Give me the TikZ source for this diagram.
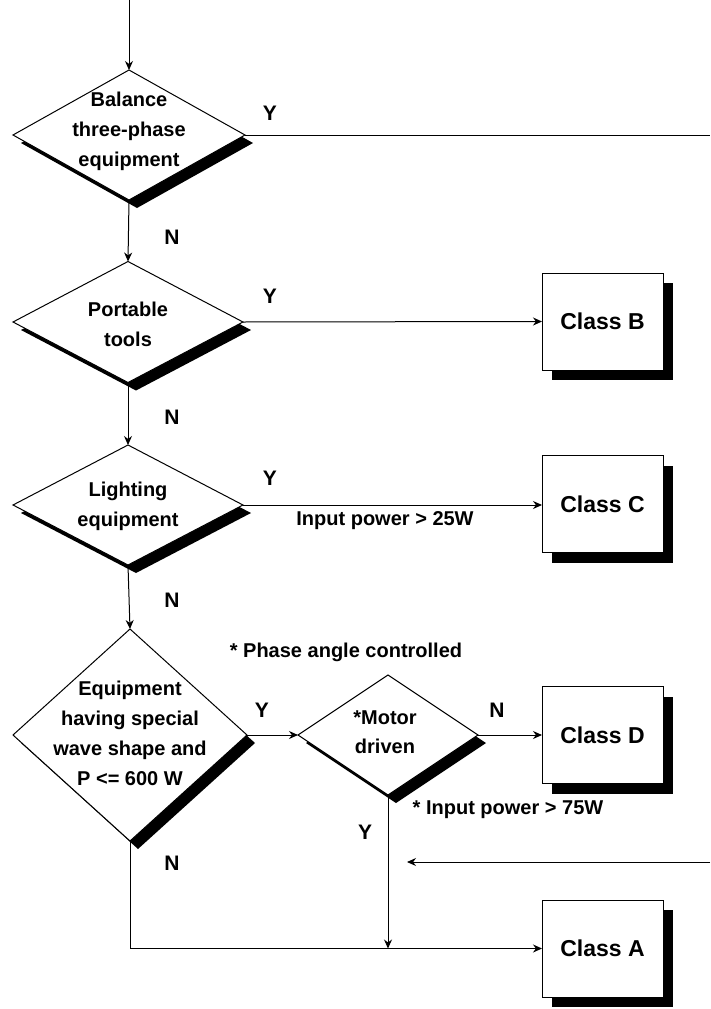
\documentclass[tikz,border=0pt]{standalone}
\usepackage{fontspec}
\setmainfont{Liberation Sans}
\usetikzlibrary{shapes.geometric,shadows,arrows.meta}
\begin{document}
\begin{tikzpicture}[x=1pt,y=-1pt,
  dec/.style={diamond, draw, line width=1pt, fill=white, inner sep=0pt, outer sep=0pt,
    drop shadow={shadow xshift=8pt, shadow yshift=-8pt, fill=black, opacity=1}},
  dtext/.style={align=center, inner sep=0pt, font=\fontsize{20}{30}\selectfont\bfseries},
  cls/.style={draw, fill=white, line width=1pt, minimum width=121pt, minimum height=97pt, outer sep=0pt,
    drop shadow={shadow xshift=10pt, shadow yshift=-10pt, fill=black, opacity=1},
    font=\fontsize{23}{28}\selectfont\bfseries},
  lbl/.style={inner sep=0pt, font=\fontsize{21}{25}\selectfont\bfseries},
  note/.style={inner sep=0pt, font=\fontsize{20}{24}\selectfont\bfseries},
  arr/.style={-{Stealth[length=9pt,width=8pt]}, line width=1pt},
  ln/.style={line width=1pt}]
\useasboundingbox (0,0) rectangle (710,1009);

% decisions
\node[dec, minimum width=232pt, minimum height=130pt] (d1) at (129,135) {};
\node[dtext] (d1t) at (129,131) {Balance\\three-phase\\equipment};
\node[dec, minimum width=230pt, minimum height=121pt] (d2) at (128,322) {};
\node[dtext] (d2t) at (128,324) {Portable\\tools};
\node[dec, minimum width=230pt, minimum height=120pt] (d3) at (128,505) {};
\node[dtext] (d3t) at (128,506) {Lighting\\equipment};
\node[dec, minimum width=234pt, minimum height=212pt] (d4) at (130,735) {};
\node[dtext] (d4t) at (130,733) {Equipment\\having special\\wave shape and\\P <= 600 W};
\node[dec, minimum width=180pt, minimum height=120pt] (m) at (388,735) {};
\node[dtext, font=\fontsize{20}{29}\selectfont\bfseries] (mt) at (385,732) {*Motor\\driven};

% classes
\node[cls] (B) at (602.5,321.5) {Class B};
\node[cls] (C) at (602.5,504) {Class C};
\node[cls] (D) at (602.5,735) {Class D};
\node[cls] (A) at (602.5,948.5) {Class A};

% free ends
\coordinate (top) at (129,0);
\coordinate (r1) at (710,135);
\coordinate (r2) at (710,862);
\coordinate (l2) at (407,862);

% connectors
\draw[arr] (top) -- (d1.north);
\draw[ln] (d1.east) -- (r1);
\draw[arr] (d1.south) -- (d2.north);
\draw[arr] (d2.east) -- (B.west);
\draw[arr] (d2.south) -- (d3.north);
\draw[arr] (d3.east) -- (d3.east -| C.west);
\draw[arr] (d3.south) -- (d4.north);
\draw[arr] (d4.east) -- (m.west);
\draw[arr] (m.east) -- (D.west);
\draw[arr] (m.south) -- (m.south |- A.west);
\draw[arr] (d4.south) |- (A.west);
\draw[arr] (r2) -- (l2);

% labels
\node[lbl] (y1) at (270,113) {Y};
\node[lbl] (n1) at (172,237) {N};
\node[lbl] (y2) at (270,296) {Y};
\node[lbl] (n2) at (172,417) {N};
\node[lbl] (y3) at (270,478) {Y};
\node[lbl] (n3) at (172,600) {N};
\node[lbl] (y4) at (262,710) {Y};
\node[lbl] (n5) at (497,710) {N};
\node[lbl] (y5) at (365,832) {Y};
\node[lbl] (n4) at (172,863) {N};
\node[note] (p25) at (385,521) {Input power > 25W};
\node[note] (pac) at (346,652) {* Phase angle controlled};
\node[note] (p75) at (508,810) {* Input power > 75W};
\end{tikzpicture}
\end{document}
